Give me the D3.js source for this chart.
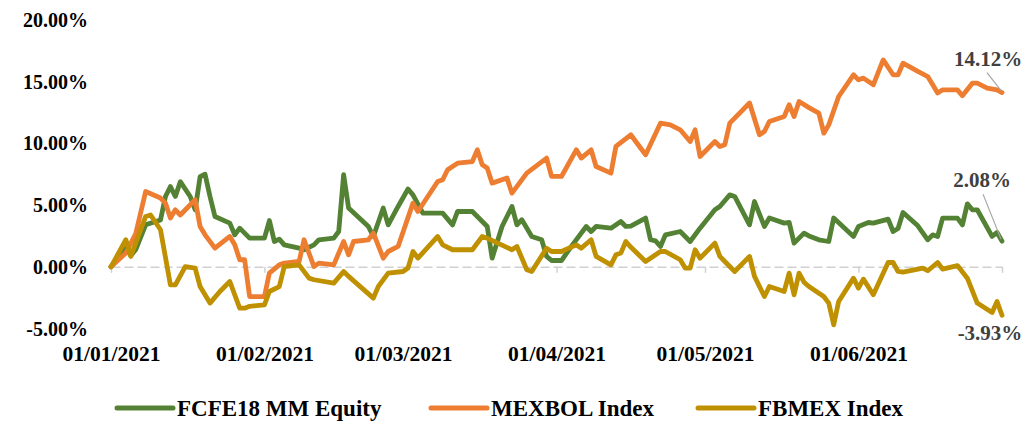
<!DOCTYPE html>
<html>
<head>
<meta charset="utf-8">
<script src="https://cdn.jsdelivr.net/npm/d3@7"></script>
<style>
  body { margin: 0; background: #fff; }
  svg { display: block; font-family: "Liberation Serif", "Times New Roman", serif; font-weight: bold; }
</style>
</head>
<body>
<svg id="chart" width="1024" height="424"></svg>
<script>
// Cumulative returns 2021 (%)
const fcfeDates = ["01-01","01-04","01-05","01-06","01-08","01-11","01-12","01-13","01-14","01-15","01-17","01-18","01-19","01-20","01-21","01-22","01-25","01-26","01-27","01-29","02-01","02-02","02-03","02-04","02-05","02-08","02-09","02-11","02-12","02-15","02-16","02-17","02-18","02-22","02-23","02-25","02-26","02-28","03-02","03-03","03-05","03-09","03-11","03-12","03-15","03-17","03-18","03-19","03-21","03-23","03-24","03-25","03-27","03-29","03-30","03-31","04-02","04-04","04-07","04-08","04-09","04-12","04-14","04-15","04-16","04-19","04-20","04-21","04-22","04-23","04-26","04-28","04-30","05-03","05-04","05-06","05-07","05-10","05-11","05-13","05-14","05-17","05-18","05-19","05-21","05-22","05-24","05-26","05-27","05-31","06-01","06-03","06-04","06-07","06-08","06-09","06-10","06-13","06-15","06-16","06-17","06-18","06-21","06-22","06-23","06-24","06-25","06-28","06-29","06-30"];
const fcfeValues = [0,1.6,0.9,1.4,3.4,3.8,5.7,6.5,5.7,6.9,5.7,4.62,7.3,7.5,5.7,4.08,3.54,2.59,3.13,2.32,2.32,3.75,2.05,2.24,1.78,1.51,1.38,1.78,2.19,2.32,2.86,7.46,4.76,3.27,2.46,4.76,3.4,4.89,6.3,5.83,4.35,4.35,3.4,4.48,4.48,3.67,3.27,0.7,3.27,4.89,3.4,3.81,2.46,2.19,0.84,0.51,0.51,1.65,3.27,2.86,3.27,3.13,3.67,3.27,3.3,3.95,2.19,2.1,1.65,2.59,2.86,2.05,3.13,4.62,4.89,5.83,5.7,3.4,5.29,3.27,3.95,3.54,3.6,1.92,2.73,2.5,2.19,2.05,3.95,2.46,3.27,3.59,3.54,3.86,2.86,3.1,4.4,3.32,2.19,2.59,2.46,3.95,3.95,3.4,5.1,4.62,4.62,2.46,2.78,2.08];

const mexDates = ["01-01","01-04","01-06","01-08","01-11","01-12","01-13","01-14","01-15","01-18","01-19","01-20","01-22","01-25","01-26","01-27","01-28","01-29","02-01","02-02","02-04","02-05","02-08","02-09","02-11","02-12","02-15","02-17","02-18","02-19","02-22","02-23","02-25","02-26","02-28","03-03","03-04","03-06","03-08","03-09","03-10","03-12","03-15","03-16","03-17","03-18","03-19","03-22","03-23","03-26","03-30","03-31","04-02","04-05","04-06","04-08","04-09","04-12","04-13","04-16","04-19","04-22","04-24","04-26","04-28","04-29","04-30","05-03","05-04","05-05","05-06","05-10","05-12","05-13","05-14","05-17","05-18","05-19","05-20","05-22","05-24","05-25","05-26","05-28","05-31","06-01","06-02","06-04","06-06","06-08","06-09","06-10","06-13","06-15","06-17","06-18","06-21","06-22","06-24","06-25","06-27","06-29","06-30"];
const mexValues = [0,1.11,2.7,6.1,5.57,5.16,3.95,4.62,4.2,5.43,3.27,2.59,1.51,2.46,1.78,0.57,0.57,-2.41,-2.41,-0.51,0.16,0.3,0.43,2.19,0.02,0.3,0.16,2.05,0.97,2.05,2.19,2.73,0.7,1.24,1.65,5.16,4.48,5.7,6.91,7.05,7.86,8.4,8.53,9.48,8.27,8.0,6.78,7.19,5.97,7.59,8.81,7.32,7.32,9.48,8.81,9.48,8.13,7.59,9.75,10.7,9.08,11.64,11.5,11.1,10.15,11.1,8.94,10.15,9.75,9.89,11.64,13.27,10.7,10.96,11.77,12.18,13.13,12.18,13.4,12.9,12.45,10.83,11.5,13.8,15.56,15.15,15.29,14.75,16.77,15.56,15.56,16.5,15.83,15.42,14.08,14.34,14.34,13.86,14.88,14.88,14.48,14.34,14.12];

const fbDates = ["01-01","01-04","01-05","01-08","01-09","01-11","01-13","01-14","01-16","01-18","01-19","01-21","01-23","01-25","01-27","01-28","01-29","02-01","02-02","02-04","02-05","02-08","02-10","02-11","02-15","02-17","02-18","02-23","02-24","02-26","03-01","03-02","03-03","03-04","03-08","03-09","03-11","03-15","03-17","03-18","03-23","03-24","03-26","03-27","03-30","03-31","04-02","04-05","04-06","04-08","04-09","04-12","04-13","04-14","04-15","04-16","04-19","04-22","04-23","04-26","04-27","04-28","04-29","04-30","05-03","05-04","05-05","05-07","05-10","05-11","05-13","05-14","05-17","05-18","05-19","05-20","05-21","05-22","05-25","05-26","05-27","05-28","05-31","06-01","06-02","06-04","06-07","06-08","06-09","06-10","06-14","06-15","06-17","06-18","06-21","06-23","06-25","06-28","06-29","06-30"];
const fbValues = [0,2.19,0.84,4.08,4.2,3.0,-1.46,-1.46,0.02,-0.1,-1.6,-2.94,-2.0,-1.19,-3.35,-3.35,-3.2,-3.08,-2.0,-1.6,0.02,0.16,-0.92,-1.05,-1.32,-0.38,-0.78,-2.54,-1.6,-0.51,-0.38,-0.1,1.24,0.7,2.46,1.78,1.38,1.38,2.46,2.32,1.38,1.65,-0.24,-0.38,1.51,1.24,1.24,1.78,1.51,2.19,0.84,0.16,0.97,1.11,2.05,1.6,0.43,1.24,1.24,0.57,-0.1,-0.1,1.38,0.7,1.92,0.84,0.43,-0.38,0.84,-0.78,-2.41,-1.6,-2.0,-0.51,-2.27,-0.51,-1.25,-1.6,-2.41,-2.94,-4.7,-2.81,-0.92,-1.73,-1.0,-2.27,0.35,0.35,-0.38,-0.43,-0.1,-0.32,0.35,-0.19,0.1,-0.92,-2.94,-3.7,-2.81,-3.93];

const seriesNames = ["FCFE18 MM Equity", "MEXBOL Index", "FBMEX Index"];
const seriesColors = ["#548235", "#ED7D31", "#BF9000"];
const yTicks = [-5, 0, 5, 10, 15, 20];
const xTickDates = ["01-01", "02-01", "03-01", "04-01", "05-01", "06-01"];

const parse = s => d3.timeParse("%Y-%m-%d")("2021-" + s);
// plain hyphen for negatives, like the original
const pct = v => d3.format('.2f')(v).replace('\u2212', '-') + '%';

const series = [
  { name: seriesNames[0], color: seriesColors[0], pts: d3.zip(fcfeDates, fcfeValues) },
  { name: seriesNames[1], color: seriesColors[1], pts: d3.zip(mexDates, mexValues) },
  { name: seriesNames[2], color: seriesColors[2], pts: d3.zip(fbDates, fbValues) }
].map(s => ({ ...s, pts: s.pts.map(([d, v]) => ({ date: parse(d), value: v })) }));

const svg = d3.select('#chart');

const x = d3.scaleTime()
  .domain([parse("01-01"), parse("06-30")])
  .range([111, 1002]);
const y = d3.scaleLinear()
  .domain([-5, 20])
  .range([328.5, 20]);

// y labels (no axis line, no grid)
svg.append('g')
  .selectAll('text')
  .data(yTicks)
  .join('text')
  .attr('x', 88)
  .attr('y', d => y(d))
  .attr('dy', '0.35em')
  .attr('text-anchor', 'end')
  .attr('font-size', 20)
  .attr('fill', '#000')
  .text(pct);

// zero line, dashed, with month ticks
const zeroAxis = d3.axisBottom(x)
  .tickValues(xTickDates.map(parse).concat([parse("06-30")]))
  .tickSize(6)
  .tickSizeOuter(0)
  .tickFormat('');
const zg = svg.append('g')
  .attr('transform', `translate(0,${y(0)})`)
  .call(zeroAxis);
zg.select('.domain')
  .attr('stroke', '#d0d0d0')
  .attr('stroke-width', 1.5)
  .attr('stroke-dasharray', '9,4');
zg.selectAll('.tick line').attr('stroke', '#d0d0d0').attr('stroke-width', 1.5);

// date labels along the bottom
const labelAxis = d3.axisBottom(x)
  .tickValues(xTickDates.map(parse))
  .tickSize(0)
  .tickPadding(0)
  .tickFormat(d3.timeFormat('%d/%m/%Y'));
const lg = svg.append('g')
  .attr('transform', 'translate(0,353)')
  .call(labelAxis);
lg.select('.domain').remove();
lg.selectAll('text')
  .attr('dy', '0.35em')
  .attr('font-family', '"Liberation Serif", serif')
  .attr('font-weight', 'bold')
  .attr('font-size', 21.5)
  .attr('fill', '#000');

// lines
const line = d3.line()
  .x(d => x(d.date))
  .y(d => y(d.value));

svg.append('g')
  .selectAll('path')
  .data(series)
  .join('path')
  .attr('d', d => line(d.pts))
  .attr('fill', 'none')
  .attr('stroke', d => d.color)
  .attr('stroke-width', 4.8)
  .attr('stroke-linejoin', 'round')
  .attr('stroke-linecap', 'round');

// end-point labels with leader lines
const endLabels = [
  { s: 1, dx: -14, dy: -34, lx0: -15, ly0: -20 },
  { s: 0, dx: -20, dy: -61, lx0: -19, ly0: -47 },
  { s: 2, dx: -12, dy: 17, lx0: null, ly0: null }
];
endLabels.forEach(l => {
  const last = series[l.s].pts[series[l.s].pts.length - 1];
  const px = x(last.date), py = y(last.value);
  if (l.lx0 !== null) {
    svg.append('line')
      .attr('x1', px + l.lx0).attr('y1', py + l.ly0)
      .attr('x2', px - 1).attr('y2', py - 2)
      .attr('stroke', '#a6a6a6')
      .attr('stroke-width', 1.2);
  }
  svg.append('text')
    .attr('x', px + l.dx)
    .attr('y', py + l.dy)
    .attr('dy', '0.35em')
    .attr('text-anchor', 'middle')
    .attr('font-size', 21)
    .attr('fill', '#404040')
    .text(pct(last.value));
});

// legend
const legendX = [117, 431, 698];
const leg = svg.append('g')
  .selectAll('g')
  .data(series)
  .join('g')
  .attr('transform', (d, i) => `translate(${legendX[i]},408)`);
leg.append('line')
  .attr('x1', 0).attr('x2', 56)
  .attr('stroke', d => d.color)
  .attr('stroke-width', 5)
  .attr('stroke-linecap', 'round');
leg.append('text')
  .attr('x', 60)
  .attr('dy', '0.35em')
  .attr('font-size', 23)
  .attr('fill', '#000')
  .text(d => d.name);
</script>
</body>
</html>
